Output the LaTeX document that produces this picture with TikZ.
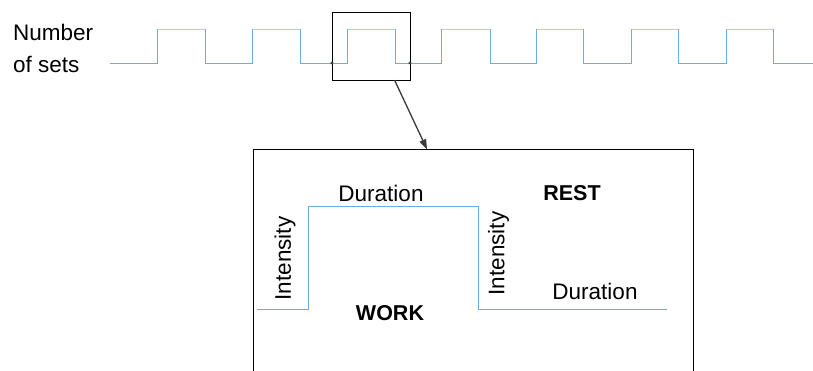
\documentclass[tikz,border=0pt]{standalone}
\usepackage{fontspec}
\setmainfont{Liberation Sans}
\usetikzlibrary{arrows.meta}
\definecolor{wave}{HTML}{6AAEE6}
\definecolor{wavetop}{HTML}{9ED8F2}
\definecolor{arrowgray}{HTML}{3A3A3A}
\tikzset{
  lbl/.style={inner sep=0pt, font=\fontsize{22.5}{26}\selectfont},
  boldlbl/.style={lbl, font=\fontsize{21.5}{26}\selectfont\bfseries},
  waveline/.style={draw=wave, line width=1pt},
  frame/.style={draw=black, line width=1.1pt, inner sep=0pt},
  conn/.style={draw=arrowgray, line width=1.3pt, -{Triangle[length=10pt,width=7pt]}}
}
\begin{document}
\begin{tikzpicture}[x=1pt,y=-1pt]
\useasboundingbox (0,0) rectangle (813,370);
\begin{scope}
\clip (0,0) rectangle (813,370);
% labels
\node[lbl, anchor=base west] (num) at (13,40.5) {Number};
\node[lbl, anchor=base west] (sets) at (13,72.5) {of sets};
% top wave
\draw[waveline] (110,63)
  -- (157,63) -- (157,29.5) -- (205,29.5) -- (205,63)
  -- (252,63) -- (252,29.5) -- (300,29.5) -- (300,63)
  -- (347,63) -- (347,29.5) -- (395,29.5) -- (395,63)
  -- (441,63) -- (441,29.5) -- (490,29.5) -- (490,63)
  -- (536,63) -- (536,29.5) -- (583,29.5) -- (583,63)
  -- (631,63) -- (631,29.5) -- (678,29.5) -- (678,63)
  -- (726,63) -- (726,29.5) -- (773,29.5) -- (773,63)
  -- (813,63);
\foreach \a/\b in {157/205,252/300,347/395,441/490,536/583,631/678,726/773}
  \draw[draw=wavetop, line width=1pt] (\a+0.5,29.5) -- (\b-0.5,29.5);
% zoom box
\node[frame, minimum width=78pt, minimum height=68pt, anchor=north west] (zoom) at (332,12) {};
\fill[arrowgray] (332,63) circle (1.6pt) (410,63) circle (1.6pt);
% big box (extends past bottom)
\node[frame, line width=1pt, minimum width=440pt, minimum height=260pt, anchor=north west] (big) at (252.7,149.3) {};
% connector
\coordinate (from) at (394.5,80);
\coordinate (to) at (427,149.3);
\draw[conn] (from) -- (to);
% inner wave
\draw[waveline] (257,309.3) -- (308.3,309.3) -- (308.3,206.7) -- (478.3,206.7) -- (478.3,309.3) -- (666.7,309.3);
% inner labels
\node[lbl] (dur1) at (381,193) {Duration};
\node[boldlbl] (work) at (390,313) {WORK};
\node[boldlbl] (rest) at (572,193) {REST};
\node[lbl] (dur2) at (595,291) {Duration};
\node[lbl, rotate=90] (int1) at (285,258.5) {Intensity};
\node[lbl, rotate=90] (int2) at (498.5,253.5) {Intensity};
\end{scope}
\end{tikzpicture}
\end{document}
